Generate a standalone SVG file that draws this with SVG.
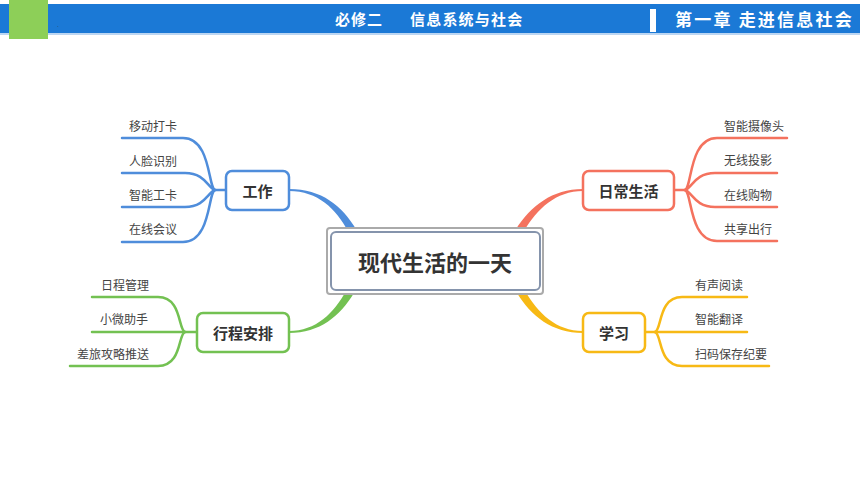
<svg xmlns="http://www.w3.org/2000/svg" width="860" height="484" viewBox="0 0 860 484">
<style>
.hdr{font-family:"Noto Sans CJK SC","Noto Sans",sans-serif;font-weight:bold;fill:#fff}
.node{font-family:"Noto Sans CJK SC","Noto Sans",sans-serif;font-weight:bold;font-size:15px;fill:#333;text-anchor:middle;dominant-baseline:central}
.leaf{font-family:"Noto Sans CJK SC","Noto Sans",sans-serif;font-size:12px;fill:#444;dominant-baseline:central}
.br{fill:none;stroke-width:2.5;stroke-linecap:round}
.box{fill:#fff;stroke-width:2.5}
.blue{stroke:#4f8ddb}.red{stroke:#f4725e}.green{stroke:#73c152}.orange{stroke:#f7b915}
</style>
<rect width="860" height="484" fill="#fff"/>
<g id="header">
<rect x="0" y="4" width="860" height="29" fill="#1b79d6"/>
<rect x="0" y="33" width="860" height="2" fill="#bcd6f2"/>
<rect x="9" y="0" width="39" height="39" fill="#8dcf58"/>
<text x="57" y="27" font-family="Liberation Sans,sans-serif" font-size="6" fill="#333">.</text>
<text class="hdr" x="335" y="25" font-size="15" letter-spacing="1">必修二</text>
<text class="hdr" x="410" y="25" font-size="15" letter-spacing="1.2">信息系统与社会</text>
<rect x="650" y="9" width="6" height="23" fill="#fff"/>
<text class="hdr" x="675" y="26" font-size="17" letter-spacing="2.2">第一章 走进信息社会</text>
</g>
<g id="connectors">
<path d="M289,189 C322,189 342,206 356,229 L348,231 C336,209 318,191 289,191 Z" fill="#4f8ddb"/>
<path d="M583,189 C552,189 531,206 516,229 L524,231 C537,209 556,191 583,191 Z" fill="#f4725e"/>
<path d="M289,333 C320,333 340,316 354,293 L346,291 C334,313 316,331 289,331 Z" fill="#73c152"/>
<path d="M583,333 C552,333 531,316 517,293 L525,291 C538,313 556,331 583,331 Z" fill="#f7b915"/>
<g class="blue">
<path class="br" d="M226,190 H215 C208,188 211,138 183,138 H122"/>
<path class="br" d="M215,190 C208,188 205,173 185,173 H122"/>
<path class="br" d="M215,190 C208,192 205,207 185,207 H122"/>
<path class="br" d="M215,190 C208,192 211,242 183,242 H122"/>
</g>
<g class="red">
<path class="br" d="M674,190 H685 C692,188 689,138 717,138 H787"/>
<path class="br" d="M685,190 C692,188 695,173 715,173 H777"/>
<path class="br" d="M685,190 C692,192 695,207 715,207 H777"/>
<path class="br" d="M685,190 C692,192 689,241 717,241 H777"/>
</g>
<g class="green">
<path class="br" d="M197,332 H92"/>
<path class="br" d="M185,332 C178,330 182,297 158,297 H92"/>
<path class="br" d="M185,332 C178,334 182,366 158,366 H70"/>
</g>
<g class="orange">
<path class="br" d="M645,332 H747"/>
<path class="br" d="M655,332 C662,330 658,297 682,297 H747"/>
<path class="br" d="M655,332 C662,334 658,366 682,366 H769"/>
</g>
</g>
<g id="center">
<rect x="327" y="228" width="216" height="66" rx="3" fill="#fff" stroke="#aaaaaa" stroke-width="2"/>
<rect x="331" y="232" width="209" height="58" rx="5" fill="#fff" stroke="#8594ac" stroke-width="2"/>
<text x="435" y="261" font-family="Noto Sans CJK SC,sans-serif" font-weight="bold" font-size="22" fill="#333" text-anchor="middle" dominant-baseline="central">现代生活的一天</text>
</g>
<g id="node-work">
<rect class="box blue" x="226" y="171" width="63" height="39" rx="6"/>
<text class="node" x="257.5" y="190">工作</text>
</g>
<g id="node-life">
<rect class="box red" x="583" y="171" width="91" height="39" rx="6"/>
<text class="node" x="628.5" y="190">日常生活</text>
</g>
<g id="node-schedule">
<rect class="box green" x="197" y="313" width="92" height="39" rx="6"/>
<text class="node" x="243" y="332">行程安排</text>
</g>
<g id="node-study">
<rect class="box orange" x="583" y="313" width="62" height="39" rx="6"/>
<text class="node" x="614" y="332">学习</text>
</g>
<g id="leaves">
<text class="leaf" x="129" y="125">移动打卡</text>
<text class="leaf" x="129" y="160">人脸识别</text>
<text class="leaf" x="129" y="194">智能工卡</text>
<text class="leaf" x="129" y="228">在线会议</text>
<text class="leaf" x="724" y="125">智能摄像头</text>
<text class="leaf" x="724" y="159">无线投影</text>
<text class="leaf" x="724" y="194">在线购物</text>
<text class="leaf" x="724" y="228">共享出行</text>
<text class="leaf" x="101" y="284">日程管理</text>
<text class="leaf" x="100" y="318">小微助手</text>
<text class="leaf" x="77" y="353">差旅攻略推送</text>
<text class="leaf" x="695" y="284">有声阅读</text>
<text class="leaf" x="695" y="318">智能翻译</text>
<text class="leaf" x="695" y="353">扫码保存纪要</text>
</g>
</svg>
